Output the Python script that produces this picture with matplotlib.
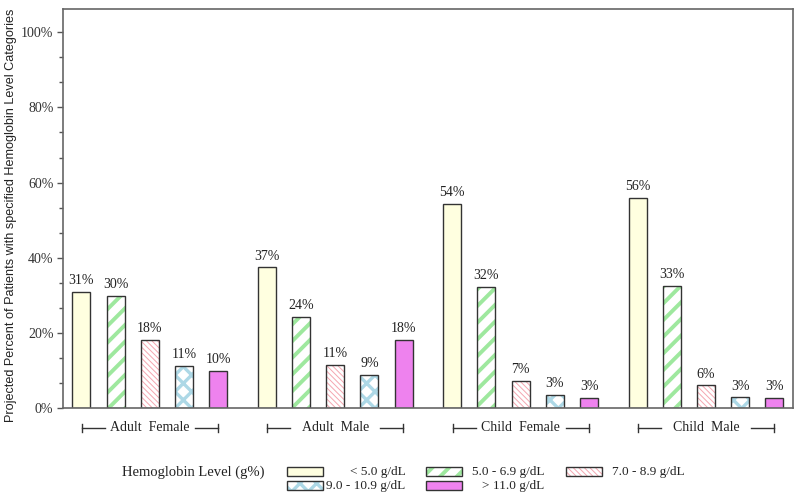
import numpy as np
import matplotlib
matplotlib.use('Agg')
import matplotlib.pyplot as plt
from matplotlib.patches import Rectangle
from matplotlib.ticker import MultipleLocator, FuncFormatter
from matplotlib.transforms import blended_transform_factory

# data
groups = ['Adult  Female', 'Adult  Male', 'Child  Female', 'Child  Male']
levels = ['< 5.0 g/dL', '5.0 - 6.9 g/dL', '7.0 - 8.9 g/dL', '9.0 - 10.9 g/dL', '> 11.0 g/dL']
lt5 = [31.0, 37.4, 54.4, 55.8]
l5_69 = [29.9, 24.3, 32.3, 32.6]
l7_89 = [18.1, 11.4, 7.2, 6.0]
l9_109 = [11.2, 8.7, 3.4, 2.8]
gt11 = [9.9, 18.1, 2.7, 2.6]
series = [lt5, l5_69, l7_89, l9_109, gt11]

# style per level: face, hatch, hatch colour, hatch linewidth
styles = [
    ('#FFFFE0', '', None, 0),
    ('white', '//', '#9EE89E', 2.8),
    ('white', '\\\\\\\\\\\\', '#F4A6B0', 0.7),
    ('white', 'xx', '#ADD8E6', 2.4),
    ('#EE82EE', '', None, 0),
]

serif = 'Liberation Serif'
sans = 'Liberation Sans'
edge = '#333333'


def hatched(make, face, hatch, hcol, hlw, **kw):
    # draw hatch layer with the edgecolor used as hatch colour, then outline
    if hatch:
        plt.rcParams['hatch.linewidth'] = hlw
        arts = make(facecolor=face, hatch=hatch, edgecolor=hcol, linewidth=0, **kw)
        for a in np.atleast_1d(arts):
            if hasattr(a, 'set_hatch_linewidth'):
                a.set_hatch_linewidth(hlw)
        make(facecolor='none', edgecolor=edge, linewidth=1.0, **kw)
    else:
        make(facecolor=face, edgecolor=edge, linewidth=1.0, **kw)


fig = plt.figure(figsize=(8, 5), dpi=100)
ax = fig.add_axes([0.079, 0.184, 0.912, 0.798])

x = np.arange(len(groups))
step = 0.1845
width = 0.097
for j, vals in enumerate(series):
    face, hatch, hcol, hlw = styles[j]
    xs = x + (j - 2) * step
    hatched(lambda **kw: list(ax.bar(xs, vals, width, **kw)), face, hatch, hcol, hlw)
    for xi, v in zip(xs, vals):
        ax.text(xi, v + 1.3, '%d%%' % int(round(v)), ha='center', va='bottom',
                fontsize=10, family=serif, color='#222222')

ax.set_xlim(-0.467, 3.468)
ax.set_ylim(0, 106.2)
ax.set_xticks([])
ax.yaxis.set_major_locator(MultipleLocator(20))
ax.yaxis.set_minor_locator(MultipleLocator(20 / 3))
ax.yaxis.set_major_formatter(FuncFormatter(lambda v, p: '%d%%' % v))
ax.tick_params(axis='y', which='major', length=4, width=1, color='#555555',
               labelsize=10, labelcolor='#333333', pad=3)
ax.tick_params(axis='y', which='minor', length=3, width=1, color='#555555')
for lab in ax.get_yticklabels():
    lab.set_family(serif)
for s in ax.spines.values():
    s.set_color('#666666')
    s.set_linewidth(1.2)
ax.set_ylabel('Projected Percent of Patients with specified Hemoglobin Level Categories',
              family=sans, fontsize=9.1, color='#222222', labelpad=6)
ax.yaxis.set_label_coords(-0.064, 0.482)

# group brackets under the axis
tr = blended_transform_factory(ax.transData, ax.transAxes)
yb = -0.05
for xi, g in zip(x, groups):
    ax.plot([xi - 0.367, xi - 0.242], [yb, yb], color='#333333', lw=1, transform=tr, clip_on=False)
    ax.plot([xi + 0.243, xi + 0.367], [yb, yb], color='#333333', lw=1, transform=tr, clip_on=False)
    for e in (xi - 0.367, xi + 0.367):
        ax.plot([e, e], [yb - 0.011, yb + 0.011], color='#333333', lw=1, transform=tr, clip_on=False)
    ax.text(xi, yb, g, transform=tr, ha='center', va='center', fontsize=10,
            family=serif, color='#222222')

# legend drawn in figure coordinates
W, H = 800.0, 500.0
fig.text(122 / W, 1 - 472 / H, 'Hemoglobin Level (g%)', ha='left', va='center',
         fontsize=10.5, family=serif, color='#222222')
slots = [(286.7, 467, 405.7), (425.7, 467, 544.3), (565.7, 467, 684.3),
         (286.7, 481, 405.7), (425.7, 481, 544.3)]
for j, lab in enumerate(levels):
    px, py, tx = slots[j]
    face, hatch, hcol, hlw = styles[j]

    def mk(**kw):
        r = Rectangle((px / W, 1 - (py + 9) / H), 36 / W, 9 / H, transform=fig.transFigure, **kw)
        fig.add_artist(r)
        return r
    hatched(mk, face, hatch, hcol, hlw)
    fig.text(tx / W, 1 - (py + 4.5) / H, lab, ha='right', va='center',
             fontsize=9.5, family=serif, color='#222222')

fig.savefig('out.png', dpi=100)
